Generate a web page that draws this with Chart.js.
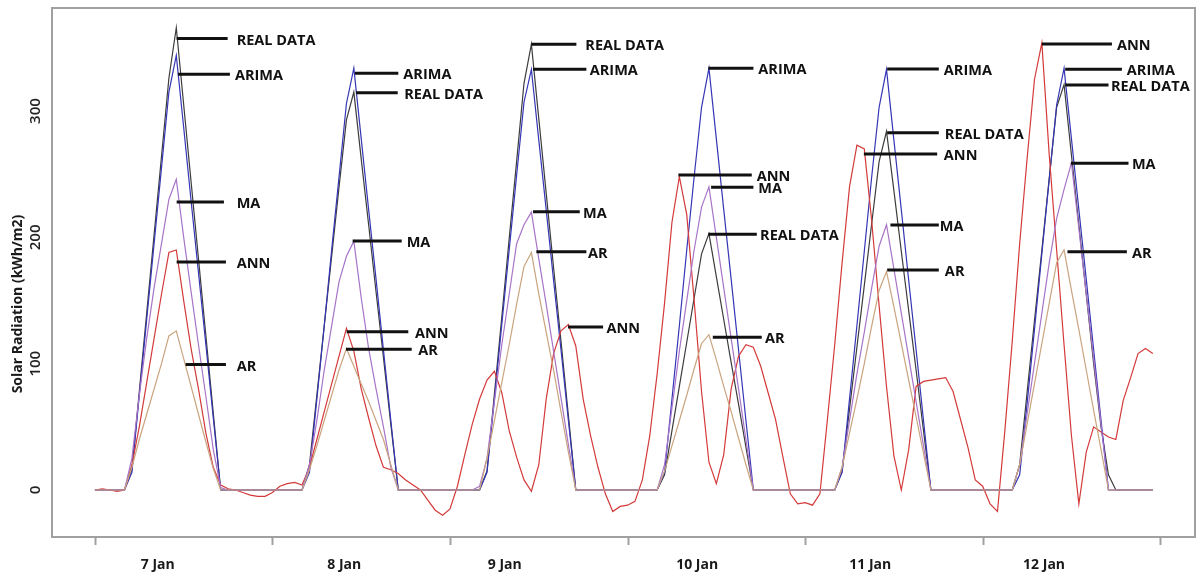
<!DOCTYPE html>
<html>
<head>
<meta charset="utf-8">
<script src="https://cdn.jsdelivr.net/npm/chart.js@4.4.0/dist/chart.umd.min.js"></script>
<style>
    html, body { margin: 0; padding: 0; background: #ffffff; }
    #contenedor { width: 1198px; height: 577px; }
</style>
</head>
<body>
<div id="contenedor"><canvas id="solarChart" width="1198" height="577"></canvas></div>
<script>
// Días mostrados en el eje X
const dias = ['7 Jan', '8 Jan', '9 Jan', '10 Jan', '11 Jan', '12 Jan'];
// Hora (desde 7 Jan 00:00) donde se centra cada etiqueta de día
const horasEtiquetaDia = [8.5, 33.7, 55.4, 81.4, 104.8, 128.3];
// Marcas del eje X (cada 24 horas)
const ticksX = [0, 24, 48, 72, 96, 120, 144];
// Marcas del eje Y
const ticksY = [0, 100, 200, 300];

// Datos reales (kWh/m2), una fila por día, 24 horas
const realData = [
    0, 0, 0, 0, 0, 16, 78, 140, 202, 264, 326, 366, 305, 244, 183, 122, 61, 0, 0, 0, 0, 0, 0, 0,
    0, 0, 0, 0, 0, 20, 75, 130, 185, 240, 293, 315, 262, 210, 157, 105, 52, 0, 0, 0, 0, 0, 0, 0,
    0, 0, 0, 0, 0, 15, 76, 137, 199, 260, 322, 353, 294, 235, 176, 118, 59, 0, 0, 0, 0, 0, 0, 0,
    0, 0, 0, 0, 0, 12, 47, 82, 117, 152, 187, 203, 169, 135, 101, 68, 34, 0, 0, 0, 0, 0, 0, 0,
    0, 0, 0, 0, 0, 15, 64, 113, 162, 211, 260, 284, 237, 189, 142, 95, 47, 0, 0, 0, 0, 0, 0, 0,
    0, 0, 0, 0, 0, 20, 77, 134, 190, 247, 303, 321, 265, 210, 155, 100, 50, 12, 0, 0, 0, 0, 0, 0
];

// Pronóstico ARIMA
const arimaData = [
    0, 0, 0, 0, 0, 14, 75, 135, 195, 255, 315, 344, 287, 229, 172, 115, 57, 0, 0, 0, 0, 0, 0, 0,
    0, 0, 0, 0, 0, 14, 72, 130, 190, 248, 306, 334, 278, 222, 167, 111, 55, 0, 0, 0, 0, 0, 0, 0,
    0, 0, 0, 0, 0, 14, 72, 131, 190, 249, 307, 333, 277, 222, 166, 111, 55, 0, 0, 0, 0, 0, 0, 0,
    0, 0, 0, 0, 0, 14, 72, 130, 190, 248, 303, 334, 278, 222, 167, 111, 55, 0, 0, 0, 0, 0, 0, 0,
    0, 0, 0, 0, 0, 14, 72, 130, 189, 248, 303, 333, 277, 222, 166, 111, 55, 0, 0, 0, 0, 0, 0, 0,
    0, 0, 0, 0, 0, 12, 68, 127, 187, 246, 305, 334, 278, 222, 167, 111, 55, 0, 0, 0, 0, 0, 0, 0
];

// Pronóstico MA
const maData = [
    0, 0, 0, 0, 0, 25, 75, 120, 160, 195, 230, 246, 200, 157, 115, 74, 32, 2, 0, 0, 0, 0, 0, 0,
    0, 0, 0, 0, 0, 20, 55, 95, 130, 165, 185, 197, 152, 112, 80, 50, 18, 0, 0, 0, 0, 0, 0, 0,
    0, 0, 0, 0, 3, 25, 70, 115, 155, 195, 210, 220, 183, 147, 110, 73, 36, 0, 0, 0, 0, 0, 0, 0,
    0, 0, 0, 0, 0, 20, 65, 110, 150, 190, 224, 240, 200, 160, 120, 80, 40, 0, 0, 0, 0, 0, 0, 0,
    0, 0, 0, 0, 0, 18, 55, 92, 125, 160, 193, 210, 175, 140, 105, 70, 35, 0, 0, 0, 0, 0, 0, 0,
    0, 0, 0, 0, 0, 20, 60, 100, 140, 180, 215, 238, 259, 207, 155, 104, 52, 0, 0, 0, 0, 0, 0, 0
];

// Pronóstico ANN
const annData = [
    0, 1, 0, -1, 0, 20, 50, 85, 120, 155, 188, 190, 150, 112, 80, 45, 18, 4, 1, 0, -2, -4, -5, -5,
    -2, 3, 5, 6, 4, 18, 40, 62, 84, 106, 128, 110, 80, 57, 35, 18, 16, 13, 8, 4, 0, -8, -16, -20,
    -15, 3, 28, 52, 72, 87, 94, 77, 47, 26, 8, -1, 20, 72, 108, 126, 131, 114, 72, 43, 18, -3, -17, -13,
    -12, -9, 8, 43, 92, 148, 212, 248, 218, 150, 78, 22, 5, 28, 80, 106, 115, 113, 98, 77, 56, 26, -3, -11,
    -10, -12, -3, 55, 115, 180, 240, 273, 270, 213, 146, 82, 27, 0, 32, 82, 86, 87, 88, 89, 78, 56, 34, 8,
    3, -11, -17, 47, 118, 195, 262, 325, 354, 265, 190, 115, 43, -11, 30, 50, 46, 42, 40, 71, 89, 108, 112, 108
];

// Pronóstico AR
const arData = [
    0, 0, 0, 0, 0, 18, 40, 60, 80, 100, 122, 126, 104, 82, 60, 38, 17, 0, 0, 0, 0, 0, 0, 0,
    0, 0, 0, 0, 0, 16, 35, 55, 75, 95, 112, 98, 84, 70, 55, 40, 20, 0, 0, 0, 0, 0, 0, 0,
    0, 0, 0, 0, 0, 25, 55, 85, 115, 147, 177, 188, 155, 125, 95, 62, 30, 0, 0, 0, 0, 0, 0, 0,
    0, 0, 0, 0, 0, 15, 35, 55, 75, 96, 116, 123, 103, 82, 62, 41, 20, 0, 0, 0, 0, 0, 0, 0,
    0, 0, 0, 0, 0, 18, 45, 72, 100, 130, 158, 173, 145, 116, 87, 58, 29, 0, 0, 0, 0, 0, 0, 0,
    0, 0, 0, 0, 0, 20, 52, 84, 116, 148, 180, 190, 158, 127, 95, 63, 32, 0, 0, 0, 0, 0, 0, 0
];

// Etiquetas con línea: [texto, hora inicio, hora fin, valor, hora del texto]
const etiquetas = [
    ['REAL DATA', 11.05, 17.94, 357.4, 19.16],
    ['ARIMA', 11.22, 18.25, 329.1, 18.93],
    ['MA', 11.05, 17.44, 228.0, 19.16],
    ['ANN', 11.05, 17.71, 180.5, 19.16],
    ['AR', 12.26, 17.71, 99.4, 19.16],
    ['ARIMA', 35.15, 41.01, 329.9, 41.69],
    ['REAL DATA', 35.29, 40.93, 314.6, 41.82],
    ['MA', 34.84, 41.47, 197.1, 42.14],
    ['ANN', 34.03, 42.36, 125.3, 43.27],
    ['AR', 33.94, 42.82, 111.4, 43.71],
    ['REAL DATA', 58.99, 65.08, 352.9, 66.29],
    ['ARIMA', 59.22, 66.43, 333.1, 66.89],
    ['MA', 59.22, 65.54, 220.3, 65.98],
    ['AR', 59.67, 66.43, 188.7, 66.66],
    ['ANN', 63.95, 68.69, 129.1, 69.16],
    ['ARIMA', 82.92, 89.01, 333.9, 89.68],
    ['ANN', 78.87, 88.79, 249.4, 89.47],
    ['MA', 83.29, 89.01, 239.7, 89.68],
    ['REAL DATA', 82.92, 89.47, 202.5, 89.91],
    ['AR', 83.52, 90.14, 120.9, 90.58],
    ['ARIMA', 107.09, 114.07, 333.3, 114.75],
    ['REAL DATA', 107.09, 114.07, 282.9, 114.89],
    ['ANN', 103.94, 113.85, 266.0, 114.75],
    ['MA', 107.53, 114.07, 209.8, 114.21],
    ['AR', 107.09, 114.07, 174.2, 114.89],
    ['ANN', 128.0, 137.47, 353.1, 138.14],
    ['ARIMA', 131.15, 138.82, 333.1, 139.49],
    ['REAL DATA', 131.15, 137.01, 320.7, 137.33],
    ['MA', 131.92, 139.71, 258.7, 140.17],
    ['AR', 131.46, 139.49, 188.7, 140.17]
];

// Horas consecutivas desde el 7 Jan 00:00
const horas = realData.map((_, i) => i);

// Convierte una serie en puntos {x, y}
function aPuntos(serie) {
    return serie.map((v, i) => ({ x: horas[i], y: v }));
}

// Plugin para dibujar el marco, los ejes y las etiquetas
const marcoPlugin = {
    id: 'marco',
    afterDatasetsDraw(chart) {
        const ctx = chart.ctx;
        const area = chart.chartArea;
        const xs = chart.scales.x;
        const ys = chart.scales.y;
        ctx.save();

        // Marco gris alrededor del área del gráfico
        ctx.strokeStyle = '#a0a0a0';
        ctx.lineWidth = 2;
        ctx.strokeRect(area.left, area.top, area.right - area.left, area.bottom - area.top);

        // Marcas del eje X
        ticksX.forEach(h => {
            const px = Math.round(xs.getPixelForValue(h)) + 0.5;
            ctx.beginPath();
            ctx.moveTo(px, area.bottom);
            ctx.lineTo(px, area.bottom + 8);
            ctx.stroke();
        });

        // Etiquetas de días
        ctx.fillStyle = '#1a1a1a';
        ctx.font = 'bold 14px "Open Sans"';
        ctx.textAlign = 'center';
        ctx.textBaseline = 'middle';
        dias.forEach((d, i) => {
            ctx.fillText(d, xs.getPixelForValue(horasEtiquetaDia[i]), 565);
        });

        // Etiquetas del eje Y (giradas)
        ctx.font = '600 15px "Open Sans"';
        ctx.fillStyle = '#222222';
        ticksY.forEach(v => {
            ctx.save();
            ctx.translate(36, ys.getPixelForValue(v));
            ctx.rotate(-Math.PI / 2);
            ctx.fillText(String(v), 0, 0);
            ctx.restore();
        });

        // Título del eje Y
        ctx.save();
        ctx.fillStyle = '#1a1a1a';
        ctx.font = 'bold 14px "Open Sans"';
        ctx.translate(18, 304);
        ctx.rotate(-Math.PI / 2);
        ctx.fillText('Solar Radiation (kWh/m2)', 0, 0);
        ctx.restore();

        // Líneas y textos de cada modelo
        ctx.strokeStyle = '#111111';
        ctx.fillStyle = '#111111';
        ctx.lineWidth = 3;
        ctx.font = 'bold 14.5px "Open Sans"';
        ctx.textAlign = 'left';
        etiquetas.forEach(([texto, h0, h1, v, ht]) => {
            const py = ys.getPixelForValue(v);
            ctx.beginPath();
            ctx.moveTo(xs.getPixelForValue(h0), py);
            ctx.lineTo(xs.getPixelForValue(h1), py);
            ctx.stroke();
            ctx.fillText(texto, xs.getPixelForValue(ht), py + 2);
        });

        ctx.restore();
    }
};

document.addEventListener('DOMContentLoaded', function() {
    // Opciones comunes de las líneas
    const linea = {
        borderWidth: 1.2,
        pointRadius: 0,
        tension: 0,
        fill: false
    };

    new Chart(document.getElementById('solarChart'), {
        type: 'line',
        data: {
            datasets: [
                { label: 'AR', data: aPuntos(arData), borderColor: '#c9a47f', ...linea },
                { label: 'MA', data: aPuntos(maData), borderColor: '#a874c8', ...linea },
                { label: 'ANN', data: aPuntos(annData), borderColor: '#d43a3a', ...linea },
                { label: 'ARIMA', data: aPuntos(arimaData), borderColor: '#3535b5', ...linea },
                { label: 'REAL DATA', data: aPuntos(realData), borderColor: '#3c3c3c', ...linea }
            ]
        },
        options: {
            responsive: false,
            animation: false,
            layout: { padding: { left: 52, top: 8, right: 3, bottom: 40 } },
            plugins: {
                legend: { display: false },
                tooltip: { enabled: false }
            },
            scales: {
                x: { type: 'linear', min: -5.8, max: 148.7, display: false },
                y: { type: 'linear', min: -37.2, max: 381.6, display: false }
            }
        },
        plugins: [marcoPlugin]
    });
});
</script>
</body>
</html>
